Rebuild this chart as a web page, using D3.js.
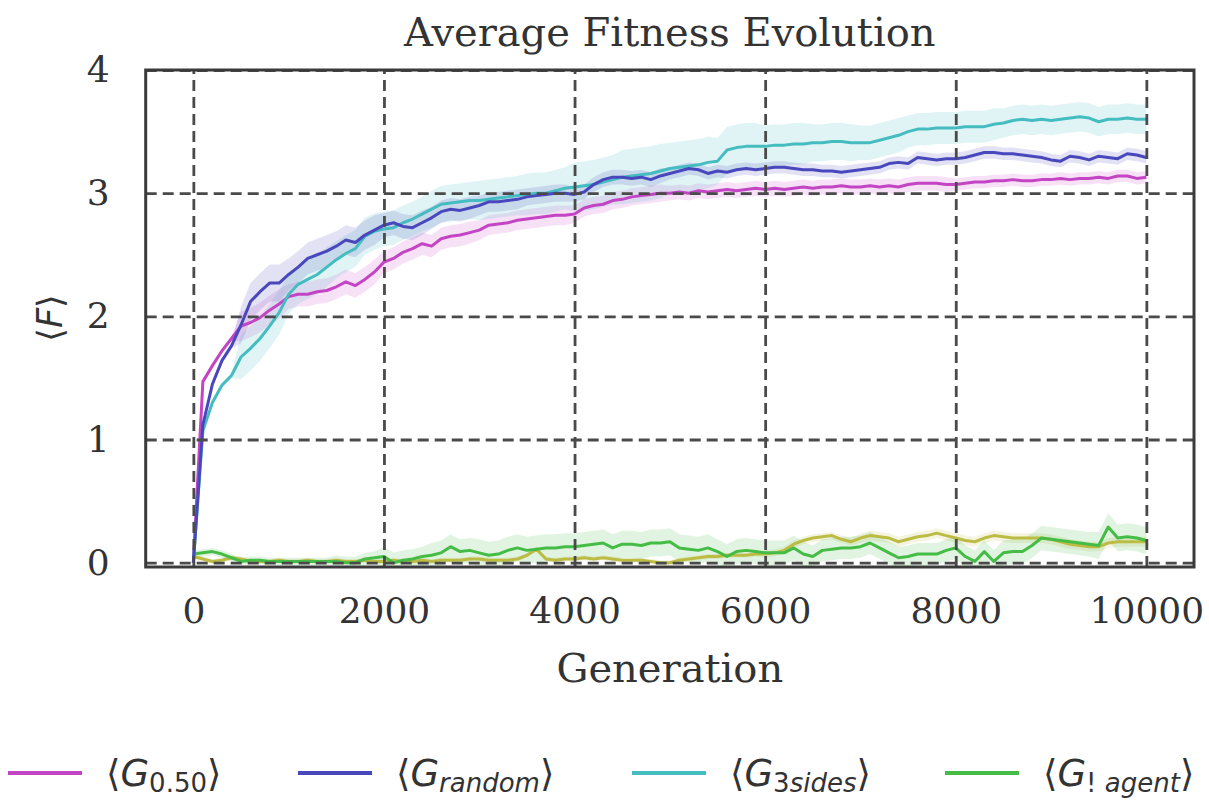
<!DOCTYPE html>
<html>
<head>
<meta charset="utf-8">
<script src="https://cdn.jsdelivr.net/npm/d3@7"></script>
<style>
  html, body { margin: 0; padding: 0; background: #fff; }
  svg { display: block; }
</style>
</head>
<body>
<svg id="chart" width="1209" height="805"></svg>
<script>
// Generations sampled every 100 steps
const generations = d3.range(0, 10001, 100);

// Mean fitness per sampled generation
const g050 = [0,1.47,1.60,1.72,1.82,1.92,1.95,1.99,2.05,2.10,2.16,2.18,2.18,2.20,2.21,2.24,2.28,2.25,2.30,2.36,
  2.44,2.47,2.52,2.55,2.59,2.57,2.63,2.65,2.66,2.68,2.70,2.74,2.75,2.76,2.78,2.79,2.80,2.81,2.82,2.82,
  2.83,2.88,2.90,2.91,2.94,2.95,2.97,2.98,2.99,3.00,3.00,3.01,3.00,3.02,3.01,3.02,3.03,3.02,3.03,3.04,
  3.03,3.04,3.03,3.04,3.05,3.04,3.05,3.05,3.06,3.05,3.05,3.06,3.05,3.06,3.05,3.07,3.08,3.08,3.08,3.07,
  3.07,3.08,3.09,3.09,3.10,3.10,3.11,3.10,3.10,3.11,3.11,3.12,3.11,3.12,3.12,3.13,3.12,3.14,3.14,3.12,3.13];
const gRandom = [0,1.12,1.45,1.64,1.76,1.93,2.12,2.20,2.27,2.27,2.34,2.40,2.47,2.50,2.53,2.57,2.62,2.60,2.66,2.70,
  2.74,2.76,2.73,2.72,2.76,2.80,2.85,2.87,2.86,2.88,2.90,2.93,2.93,2.94,2.95,2.97,2.98,2.99,3.00,3.00,
  2.99,3.01,3.07,3.11,3.13,3.13,3.12,3.13,3.11,3.14,3.16,3.18,3.20,3.19,3.16,3.18,3.17,3.19,3.20,3.19,
  3.20,3.21,3.21,3.20,3.19,3.19,3.18,3.18,3.17,3.18,3.19,3.20,3.21,3.24,3.25,3.24,3.29,3.28,3.27,3.28,
  3.28,3.29,3.31,3.33,3.33,3.32,3.32,3.31,3.30,3.29,3.27,3.26,3.30,3.29,3.27,3.30,3.29,3.28,3.32,3.31,3.29];
const g3sides = [0,1.07,1.30,1.44,1.52,1.67,1.74,1.82,1.92,2.03,2.18,2.26,2.30,2.34,2.40,2.46,2.51,2.55,2.65,2.69,
  2.71,2.72,2.76,2.79,2.83,2.87,2.91,2.92,2.93,2.94,2.94,2.95,2.96,2.97,2.98,2.99,3.00,3.00,3.02,3.04,
  3.05,3.06,3.07,3.09,3.11,3.13,3.14,3.15,3.16,3.18,3.20,3.21,3.22,3.23,3.25,3.26,3.35,3.37,3.38,3.38,
  3.38,3.39,3.39,3.40,3.40,3.41,3.41,3.42,3.42,3.41,3.41,3.41,3.43,3.45,3.47,3.50,3.52,3.52,3.53,3.53,
  3.53,3.54,3.54,3.54,3.56,3.57,3.59,3.60,3.59,3.60,3.59,3.60,3.61,3.62,3.61,3.58,3.60,3.60,3.61,3.60,3.60];
const gNoAgent = [0.07,0.08,0.09,0.07,0.04,0.01,0.02,0.02,0.01,0.01,0.01,0.01,0.01,0.01,0.01,0.01,0.00,0.00,0.03,0.04,
  0.05,0.00,0.02,0.03,0.05,0.06,0.08,0.13,0.09,0.10,0.08,0.06,0.07,0.10,0.12,0.10,0.11,0.12,0.12,0.13,
  0.13,0.14,0.15,0.16,0.12,0.15,0.15,0.14,0.16,0.16,0.17,0.12,0.11,0.10,0.12,0.09,0.05,0.09,0.10,0.09,
  0.08,0.08,0.08,0.12,0.07,0.05,0.10,0.11,0.12,0.12,0.13,0.16,0.12,0.08,0.04,0.05,0.07,0.07,0.07,0.10,
  0.12,0.05,0.01,0.09,0.01,0.08,0.09,0.09,0.14,0.20,0.19,0.18,0.17,0.16,0.15,0.14,0.29,0.20,0.21,0.20,0.18];
const gOlive = [0.05,0.03,0.01,0.02,0.04,0.03,0.01,0.01,0.01,0.02,0.01,0.01,0.02,0.01,0.01,0.02,0.01,0.01,0.02,0.01,
  0.01,0.02,0.01,0.01,0.02,0.01,0.02,0.02,0.02,0.03,0.03,0.02,0.02,0.02,0.03,0.06,0.11,0.03,0.02,0.03,
  0.03,0.04,0.03,0.04,0.03,0.02,0.02,0.02,0.01,0.00,0.00,0.02,0.03,0.04,0.05,0.05,0.06,0.06,0.06,0.07,
  0.07,0.08,0.10,0.15,0.18,0.20,0.21,0.22,0.19,0.17,0.20,0.22,0.21,0.20,0.17,0.19,0.21,0.22,0.24,0.22,
  0.20,0.18,0.17,0.20,0.22,0.21,0.20,0.20,0.20,0.20,0.19,0.17,0.15,0.14,0.13,0.13,0.16,0.17,0.17,0.17,0.17];

// Half-width of the shaded spread, one value per 500 generations
const spread050 = [0.02,0.12,0.10,0.10,0.09,0.09,0.08,0.08,0.07,0.07,0.06,0.06,0.06,0.06,0.06,0.06,0.05,0.05,0.05,0.05,0.05];
const spreadRandom = [0.02,0.15,0.13,0.12,0.10,0.09,0.08,0.07,0.06,0.06,0.05,0.05,0.05,0.05,0.05,0.05,0.05,0.05,0.05,0.05,0.05];
const spread3sides = [0.02,0.18,0.16,0.15,0.14,0.15,0.16,0.17,0.20,0.22,0.21,0.19,0.17,0.15,0.14,0.13,0.13,0.12,0.12,0.12,0.12];
const spreadNoAgent = [0.03,0.03,0.03,0.05,0.08,0.10,0.11,0.11,0.11,0.11,0.11,0.10,0.10,0.09,0.09,0.09,0.09,0.10,0.10,0.11,0.11];
const spreadOlive = [0.02,0.02,0.02,0.02,0.02,0.02,0.02,0.02,0.02,0.02,0.02,0.02,0.03,0.03,0.04,0.04,0.04,0.04,0.04,0.04,0.04];

// Axis ticks
const xTicks = [0, 2000, 4000, 6000, 8000, 10000];
const yTicks = [0, 1, 2, 3, 4];

const series = [
  { key: "olive",   values: gOlive,   spread: spreadOlive,   color: "#bcbc45" },
  { key: "noagent", values: gNoAgent, spread: spreadNoAgent, color: "#45bc45" },
  { key: "g050",    values: g050,     spread: spread050,     color: "#c445c4" },
  { key: "sides",   values: g3sides,  spread: spread3sides,  color: "#45bcc0" },
  { key: "random",  values: gRandom,  spread: spreadRandom,  color: "#4848bc" }
];

// Legend entries: label parts (text, italic)
const legendItems = [
  { color: "#c445c4", parts: [["0.50", false]] },
  { color: "#4848bc", parts: [["random", true]] },
  { color: "#45bcc0", parts: [["3", false], ["sides", true]] },
  { color: "#45bc45", parts: [["!", false], [" agent", true]] }
];

const svg = d3.select("#chart");
const plotLeft = 145.7, plotRight = 1194, plotTop = 70, plotBottom = 567;

const x = d3.scaleLinear().domain([-500, 10500]).range([plotLeft, plotRight]);
const y = d3.scaleLinear().domain([-0.035, 4.0]).range([plotBottom, plotTop]);

svg.append("defs").append("clipPath").attr("id", "plot-clip")
  .append("rect").attr("x", plotLeft).attr("y", plotTop)
  .attr("width", plotRight - plotLeft).attr("height", plotBottom - plotTop);

const plot = svg.append("g").attr("clip-path", "url(#plot-clip)");

// Shaded spread bands
const area = d3.area()
  .x(d => x(d.g))
  .y0(d => y(d.v - d.s))
  .y1(d => y(d.v + d.s));

series.forEach(s => {
  const pts = generations.map((g, i) => ({ g, v: s.values[i], s: s.spread[Math.floor(g / 500)] }));
  plot.append("path")
    .datum(pts)
    .attr("d", area)
    .attr("fill", s.color)
    .attr("fill-opacity", 0.16);
});

// Dashed grid
const gridStyle = sel => {
  sel.select(".domain").remove();
  sel.selectAll(".tick line")
    .attr("stroke", "#4a4a4a")
    .attr("stroke-width", 2.8)
    .attr("stroke-dasharray", "11,6");
};
svg.append("g")
  .attr("transform", `translate(0,${plotBottom})`)
  .call(d3.axisBottom(x).tickValues(xTicks).tickSize(-(plotBottom - plotTop)).tickFormat(""))
  .call(gridStyle);
svg.append("g")
  .attr("transform", `translate(${plotLeft},0)`)
  .call(d3.axisLeft(y).tickValues(yTicks).tickSize(-(plotRight - plotLeft)).tickFormat(""))
  .call(gridStyle);

// Mean lines
const line = d3.line().x(d => x(d.g)).y(d => y(d.v));
series.forEach(s => {
  const pts = generations.map((g, i) => ({ g, v: s.values[i] }));
  plot.append("path")
    .datum(pts)
    .attr("d", line)
    .attr("fill", "none")
    .attr("stroke", s.color)
    .attr("stroke-width", 3)
    .attr("stroke-linejoin", "round");
});

// Frame
svg.append("rect")
  .attr("x", plotLeft).attr("y", plotTop)
  .attr("width", plotRight - plotLeft).attr("height", plotBottom - plotTop)
  .attr("fill", "none").attr("stroke", "#3a3a3a").attr("stroke-width", 3);

// Tick labels
const labelStyle = sel => {
  sel.select(".domain").remove();
  sel.selectAll(".tick line").remove();
  sel.selectAll(".tick text")
    .attr("font-family", "DejaVu Serif")
    .attr("font-size", 36)
    .attr("fill", "#333");
};
svg.append("g")
  .attr("transform", `translate(0,${plotBottom})`)
  .call(d3.axisBottom(x).tickValues(xTicks).tickSize(0).tickPadding(30).tickFormat(d3.format("d")))
  .call(labelStyle);
svg.append("g")
  .attr("transform", `translate(${plotLeft},0)`)
  .call(d3.axisLeft(y).tickValues(yTicks).tickSize(0).tickPadding(36).tickFormat(d3.format("d")))
  .call(labelStyle);

// Title and axis labels
svg.append("text")
  .attr("x", (plotLeft + plotRight) / 2).attr("y", 46)
  .attr("text-anchor", "middle")
  .attr("font-family", "DejaVu Serif").attr("font-size", 40).attr("fill", "#333")
  .text("Average Fitness Evolution");

svg.append("text")
  .attr("x", (plotLeft + plotRight) / 2).attr("y", 682)
  .attr("text-anchor", "middle")
  .attr("font-family", "DejaVu Serif").attr("font-size", 40).attr("fill", "#333")
  .text("Generation");

const yLab = svg.append("text")
  .attr("transform", "translate(62,318) rotate(-90)")
  .attr("text-anchor", "middle")
  .attr("font-family", "DejaVu Sans").attr("font-size", 35).attr("fill", "#333");
yLab.append("tspan").text("\u27E8");
yLab.append("tspan").attr("font-style", "italic").text("F");
yLab.append("tspan").text("\u27E9");

// Legend
const legendX = [8, 298, 632, 945];
const legendY = 773;
legendItems.forEach((item, i) => {
  const g = svg.append("g").attr("transform", `translate(${legendX[i]},${legendY})`);
  g.append("line")
    .attr("x1", 0).attr("x2", 74).attr("y1", 0).attr("y2", 0)
    .attr("stroke", item.color).attr("stroke-width", 4);
  const t = g.append("text")
    .attr("x", 98).attr("y", 13)
    .attr("font-family", "DejaVu Sans").attr("font-size", 37).attr("fill", "#333");
  t.append("tspan").text("\u27E8");
  t.append("tspan").attr("font-style", "italic").text("G");
  item.parts.forEach((p, j) => {
    const ts = t.append("tspan")
      .attr("font-size", 26)
      .attr("font-style", p[1] ? "italic" : "normal")
      .text(p[0]);
    if (j === 0) ts.attr("dy", 6);
  });
  t.append("tspan").attr("dy", -6).text("\u27E9");
});
</script>
</body>
</html>
